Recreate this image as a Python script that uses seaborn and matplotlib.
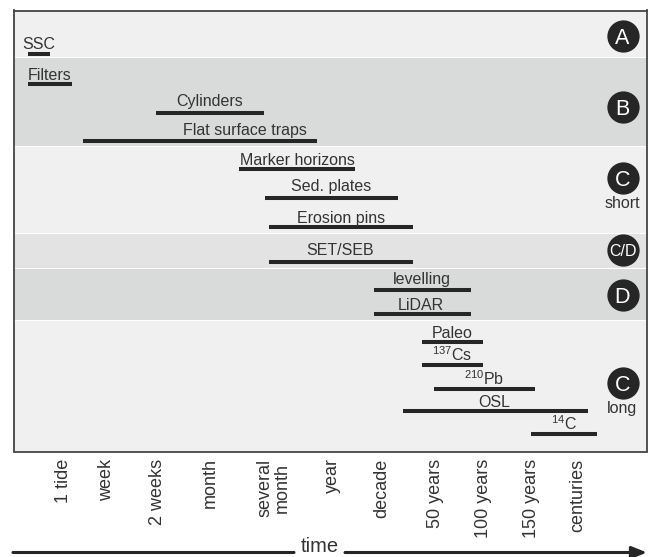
import matplotlib
matplotlib.use("Agg")
import matplotlib.pyplot as plt
import pandas as pd
import seaborn as sns

# x values are positions on the schematic (non-linear) time scale
methods = ["SSC", "Filters", "Cylinders", "Flat surface traps", "Marker horizons", "Sed. plates",
           "Erosion pins", "SET/SEB", "levelling", "LiDAR", "Paleo", "$^{137}$Cs", "$^{210}$Pb", "OSL", "$^{14}$C"]
t_start = [28, 28, 156, 83, 239, 265, 269, 269, 374, 374, 422, 422, 434, 403, 531]
t_end = [50, 72, 264, 317, 355, 398, 413, 413, 471, 471, 483, 483, 535, 588, 597]
row = [54, 84, 113, 141, 169, 198, 227, 262, 290, 314, 342, 365, 389, 411, 434]
label_x = [38.5, 50, 210, 245, 297, 331, 341, 340.5, 422, 421, 452, 452, 484, 494, 564]
label_y = [49, 80, 106, 135, 165.5, 191.5, 223, 255, 284, 310, 338, 361, 385, 407, 430]

tick_pos = [64, 107, 158, 210, 274, 332, 382, 436, 483, 532, 578]
tick_labels = ["1 tide", "week", "2 weeks", "month", "several\nmonth", "year", "decade",
               "50 years", "100 years", "150 years", "centuries"]

band_top = [11, 58, 147, 234, 269, 321]
band_bottom = [57, 146, 233, 268, 320, 451]
band_color = ["#f0f0f0", "#d9dbda", "#f0f0f0", "#e3e3e3", "#d9dbda", "#f0f0f0"]

badge_text = ["A", "B", "C", "C/D", "D", "C"]
badge_y = [36, 107, 178, 250.5, 295, 383]
badge_size = [15.5, 15.5, 15.5, 11.5, 15.5, 15.5]
note_text = ["short", "long"]
note_y = [204, 409]

sns.set_theme(style="white")
plt.rcParams["font.family"] = ["Liberation Sans", "DejaVu Sans"]
plt.rcParams["mathtext.default"] = "regular"
ink = "#333333"
W, H = 649, 557
L, R, T, B = 13.5, 646.5, 10.5, 451.5

fig = plt.figure(figsize=(W / 100, H / 100), dpi=100, facecolor="white")
ax = fig.add_axes([L / W, 1 - B / H, (R - L) / W, (B - T) / H])
ax.set_facecolor("white")

for top, bottom, col in zip(band_top, band_bottom, band_color):
    ax.axhspan(top, bottom, color=col, lw=0, zorder=0)

df = pd.DataFrame({"method": methods * 2, "t": t_start + t_end, "row": row * 2})
sns.lineplot(data=df, x="t", y="row", units="method", estimator=None, sort=False, color="#262626",
             lw=2.9, solid_capstyle="butt", ax=ax, zorder=3, legend=False)

for m, x, y in zip(methods, label_x, label_y):
    ax.text(x, y, m, ha="center", va="baseline", fontsize=11.5, color=ink, zorder=4)

badges = pd.DataFrame({"x": [622.5] * len(badge_y), "y": badge_y})
sns.scatterplot(data=badges, x="x", y="y", s=540, color="#262626", linewidth=0, ax=ax, zorder=3, legend=False)
for s, y, fs in zip(badge_text, badge_y, badge_size):
    ax.text(622.5, y, s, ha="center", va="center_baseline", fontsize=fs, color="white", zorder=5)
for s, y in zip(note_text, note_y):
    ax.text(622.5, y, s, ha="center", va="center", fontsize=11.5, color=ink, zorder=5)

ax.set_xlim(L, R)
ax.set_ylim(B, T)
ax.set_xlabel("")
ax.set_ylabel("")
ax.set_yticks([])
ax.set_xticks(tick_pos)
ax.set_xticklabels(tick_labels, rotation=90, va="top", ha="center", fontsize=13, color=ink, linespacing=1.0)
ax.tick_params(axis="x", length=0, pad=5)
for s in ax.spines.values():
    s.set_color("#444444")
    s.set_linewidth(1.3)

# time arrow under the chart
ax.annotate("", xy=(294, 552.5), xytext=(13, 552.5), xycoords="data", textcoords="data", annotation_clip=False,
            arrowprops=dict(arrowstyle="-", color="#262626", lw=2.2, shrinkA=0, shrinkB=0))
ax.annotate("", xy=(647, 552.5), xytext=(345, 552.5), xycoords="data", textcoords="data", annotation_clip=False,
            arrowprops=dict(arrowstyle="-|>,head_length=0.75,head_width=0.3", color="#262626", lw=2.2,
                            shrinkA=0, shrinkB=0))
ax.text(320, 552.5, "time", ha="center", va="baseline", fontsize=14.5, color=ink, clip_on=False)

fig.savefig("out.png", dpi=100, facecolor="white")
